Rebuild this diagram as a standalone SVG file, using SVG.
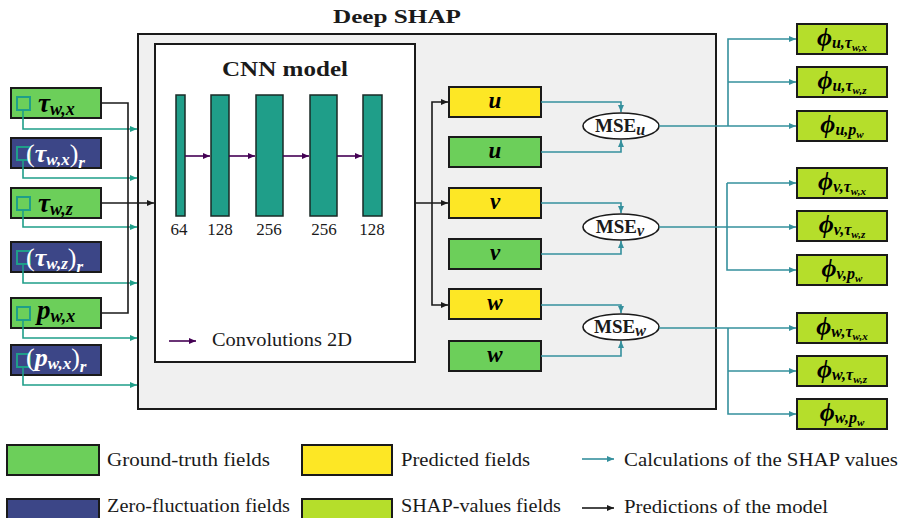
<svg xmlns="http://www.w3.org/2000/svg" width="900" height="518" viewBox="0 0 900 518">
<defs>
<style>
.gt{fill:#6ccf5a;stroke:#1a1a1a;stroke-width:2}
.zf{fill:#3c4687;stroke:#1a1a1a;stroke-width:2}
.pr{fill:#fde725;stroke:#1a1a1a;stroke-width:2}
.sh{fill:#b5de2b;stroke:#1a1a1a;stroke-width:2}
.sq{fill:none;stroke:#1f9e89;stroke-width:2}
.layer{fill:#1f9e89;stroke:#1a2a26;stroke-width:1.5}
.lt{fill:none;stroke:#1f9e89;stroke-width:1.6}
.rt{fill:none;stroke:#35909d;stroke-width:1.6}
.bk{fill:none;stroke:#1a1a1a;stroke-width:1.6}
.pu{fill:none;stroke:#440154;stroke-width:1.6}
.m{font-family:"Liberation Serif","DejaVu Serif",serif;font-weight:bold;font-style:italic}
.t{font-family:"Liberation Serif","DejaVu Serif",serif;fill:#1a1a1a}
.lg{font-family:"Liberation Serif","DejaVu Serif",serif;font-size:18px;fill:#1a1a1a}
</style>
<marker id="aL" markerWidth="8" markerHeight="8" refX="7" refY="4" orient="auto" markerUnits="userSpaceOnUse"><path d="M0,1 L7,4 L0,7 z" fill="#1f9e89"/></marker>
<marker id="aR" markerWidth="8" markerHeight="8" refX="7" refY="4" orient="auto" markerUnits="userSpaceOnUse"><path d="M0,1 L7,4 L0,7 z" fill="#35909d"/></marker>
<marker id="aB" markerWidth="8" markerHeight="8" refX="7" refY="4" orient="auto" markerUnits="userSpaceOnUse"><path d="M0,1 L7,4 L0,7 z" fill="#1a1a1a"/></marker>
<marker id="aP" markerWidth="8" markerHeight="8" refX="7" refY="4" orient="auto" markerUnits="userSpaceOnUse"><path d="M0,1 L7,4 L0,7 z" fill="#440154"/></marker>
</defs>
<rect width="900" height="518" fill="#ffffff"/>

<g id="deep-shap">
<rect x="138" y="34" width="578" height="375" fill="#f0f0f0" stroke="#1a1a1a" stroke-width="2"/>
<text x="397" y="23" text-anchor="middle" class="t" font-size="19" font-weight="bold" textLength="128" lengthAdjust="spacingAndGlyphs">Deep SHAP</text>
</g>

<g id="cnn-model">
<rect x="155" y="44" width="260" height="318" fill="#ffffff" stroke="#1a1a1a" stroke-width="2"/>
<text x="285" y="76" text-anchor="middle" class="t" font-size="20" font-weight="bold" textLength="126" lengthAdjust="spacingAndGlyphs">CNN model</text>
<rect class="layer" x="176" y="95" width="9" height="121"/>
<rect class="layer" x="211" y="95" width="18" height="121"/>
<rect class="layer" x="256" y="95" width="27" height="121"/>
<rect class="layer" x="310" y="95" width="27" height="121"/>
<rect class="layer" x="363" y="95" width="19" height="121"/>
<path class="pu" d="M185,156 H210" marker-end="url(#aP)"/>
<path class="pu" d="M229,156 H255" marker-end="url(#aP)"/>
<path class="pu" d="M283,156 H309" marker-end="url(#aP)"/>
<path class="pu" d="M337,156 H362" marker-end="url(#aP)"/>
<text class="t" font-size="17" text-anchor="middle" x="179" y="235">64</text>
<text class="t" font-size="17" text-anchor="middle" x="220" y="235">128</text>
<text class="t" font-size="17" text-anchor="middle" x="269" y="235">256</text>
<text class="t" font-size="17" text-anchor="middle" x="324" y="235">256</text>
<text class="t" font-size="17" text-anchor="middle" x="372" y="235">128</text>
<path class="pu" d="M169,341 H196" marker-end="url(#aP)"/>
<text class="t" font-size="18" x="212" y="346" textLength="140" lengthAdjust="spacingAndGlyphs">Convolutions 2D</text>
</g>

<g id="in-tauwx">
<rect class="gt" x="11" y="88" width="90" height="30"/>
<rect class="sq" x="17" y="97" width="13" height="13"/>
<text class="m" x="38" y="112" fill="#000"><tspan font-size="27">τ</tspan><tspan font-size="18" dy="3">w,x</tspan></text>
</g>
<g id="in-tauwx-r">
<rect class="zf" x="11" y="138" width="90" height="30"/>
<rect class="sq" x="17" y="147" width="13" height="13"/>
<text class="m" x="26" y="162" fill="#ffffff"><tspan font-size="26" font-style="normal" font-weight="normal">(</tspan><tspan font-size="26">τ</tspan><tspan font-size="17" dy="3">w,x</tspan><tspan font-size="26" dy="-3" font-style="normal" font-weight="normal">)</tspan><tspan font-size="17" dy="6">r</tspan></text>
</g>
<g id="in-tauwz">
<rect class="gt" x="11" y="188" width="90" height="30"/>
<rect class="sq" x="17" y="197" width="13" height="13"/>
<text class="m" x="38" y="212" fill="#000"><tspan font-size="27">τ</tspan><tspan font-size="18" dy="3">w,z</tspan></text>
</g>
<g id="in-tauwz-r">
<rect class="zf" x="11" y="242" width="90" height="30"/>
<rect class="sq" x="17" y="251" width="13" height="13"/>
<text class="m" x="26" y="266" fill="#ffffff"><tspan font-size="26" font-style="normal" font-weight="normal">(</tspan><tspan font-size="26">τ</tspan><tspan font-size="17" dy="3">w,z</tspan><tspan font-size="26" dy="-3" font-style="normal" font-weight="normal">)</tspan><tspan font-size="17" dy="6">r</tspan></text>
</g>
<g id="in-pwx">
<rect class="gt" x="11" y="298" width="90" height="30"/>
<rect class="sq" x="17" y="307" width="13" height="13"/>
<text class="m" x="37" y="319" fill="#000"><tspan font-size="27">p</tspan><tspan font-size="18" dy="3">w,x</tspan></text>
</g>
<g id="in-pwx-r">
<rect class="zf" x="11" y="345" width="90" height="30"/>
<rect class="sq" x="17" y="354" width="13" height="13"/>
<text class="m" x="26" y="366" fill="#ffffff"><tspan font-size="26" font-style="normal" font-weight="normal">(</tspan><tspan font-size="26">p</tspan><tspan font-size="17" dy="3">w,x</tspan><tspan font-size="26" dy="-3" font-style="normal" font-weight="normal">)</tspan><tspan font-size="17" dy="6">r</tspan></text>
</g>

<g id="pred-u"><rect class="pr" x="449" y="87" width="92" height="30"/><text class="m" x="495" y="108" text-anchor="middle" font-size="23">u</text></g>
<g id="gt-u"><rect class="gt" x="449" y="137" width="92" height="30"/><text class="m" x="495" y="158" text-anchor="middle" font-size="23">u</text></g>
<g id="pred-v"><rect class="pr" x="449" y="188" width="92" height="30"/><text class="m" x="495" y="209" text-anchor="middle" font-size="23">v</text></g>
<g id="gt-v"><rect class="gt" x="449" y="239" width="92" height="30"/><text class="m" x="495" y="260" text-anchor="middle" font-size="23">v</text></g>
<g id="pred-w"><rect class="pr" x="449" y="289" width="92" height="30"/><text class="m" x="495" y="310" text-anchor="middle" font-size="23">w</text></g>
<g id="gt-w"><rect class="gt" x="449" y="341" width="92" height="30"/><text class="m" x="495" y="362" text-anchor="middle" font-size="23">w</text></g>

<g id="mse-u"><ellipse cx="621" cy="126" rx="38" ry="13" fill="#fff" stroke="#1a1a1a" stroke-width="1.6"/><text x="620" y="132" text-anchor="middle" class="t" font-size="19" font-weight="bold">MSE<tspan class="m" font-size="16" dy="3">u</tspan></text></g>
<g id="mse-v"><ellipse cx="621" cy="227" rx="38" ry="13" fill="#fff" stroke="#1a1a1a" stroke-width="1.6"/><text x="620" y="233" text-anchor="middle" class="t" font-size="19" font-weight="bold">MSE<tspan class="m" font-size="16" dy="3">v</tspan></text></g>
<g id="mse-w"><ellipse cx="621" cy="327" rx="38" ry="13" fill="#fff" stroke="#1a1a1a" stroke-width="1.6"/><text x="620" y="333" text-anchor="middle" class="t" font-size="19" font-weight="bold">MSE<tspan class="m" font-size="16" dy="3">w</tspan></text></g>

<g id="phi-u-tauwx"><rect class="sh" x="797" y="24" width="90" height="30"/><text class="m" x="842" y="46" text-anchor="middle"><tspan font-size="26">ϕ</tspan><tspan font-size="16" dy="2">u,τ</tspan><tspan font-size="11" dy="3">w,x</tspan></text></g>
<g id="phi-u-tauwz"><rect class="sh" x="797" y="67" width="90" height="30"/><text class="m" x="842" y="89" text-anchor="middle"><tspan font-size="26">ϕ</tspan><tspan font-size="16" dy="2">u,τ</tspan><tspan font-size="11" dy="3">w,z</tspan></text></g>
<g id="phi-u-pw"><rect class="sh" x="797" y="111" width="90" height="30"/><text class="m" x="842" y="133" text-anchor="middle"><tspan font-size="26">ϕ</tspan><tspan font-size="16" dy="2">u,p</tspan><tspan font-size="11" dy="3">w</tspan></text></g>
<g id="phi-v-tauwx"><rect class="sh" x="797" y="168" width="90" height="30"/><text class="m" x="842" y="190" text-anchor="middle"><tspan font-size="26">ϕ</tspan><tspan font-size="16" dy="2">v,τ</tspan><tspan font-size="11" dy="3">w,x</tspan></text></g>
<g id="phi-v-tauwz"><rect class="sh" x="797" y="211" width="90" height="30"/><text class="m" x="842" y="233" text-anchor="middle"><tspan font-size="26">ϕ</tspan><tspan font-size="16" dy="2">v,τ</tspan><tspan font-size="11" dy="3">w,z</tspan></text></g>
<g id="phi-v-pw"><rect class="sh" x="797" y="255" width="90" height="30"/><text class="m" x="842" y="277" text-anchor="middle"><tspan font-size="26">ϕ</tspan><tspan font-size="16" dy="2">v,p</tspan><tspan font-size="11" dy="3">w</tspan></text></g>
<g id="phi-w-tauwx"><rect class="sh" x="797" y="313" width="90" height="30"/><text class="m" x="842" y="335" text-anchor="middle"><tspan font-size="26">ϕ</tspan><tspan font-size="16" dy="2">w,τ</tspan><tspan font-size="11" dy="3">w,x</tspan></text></g>
<g id="phi-w-tauwz"><rect class="sh" x="797" y="356" width="90" height="30"/><text class="m" x="842" y="378" text-anchor="middle"><tspan font-size="26">ϕ</tspan><tspan font-size="16" dy="2">w,τ</tspan><tspan font-size="11" dy="3">w,z</tspan></text></g>
<g id="phi-w-pw"><rect class="sh" x="797" y="399" width="90" height="30"/><text class="m" x="842" y="421" text-anchor="middle"><tspan font-size="26">ϕ</tspan><tspan font-size="16" dy="2">w,p</tspan><tspan font-size="11" dy="3">w</tspan></text></g>

<g id="connectors">
<path class="lt" d="M23,110 V129 H137" marker-end="url(#aL)"/>
<path class="lt" d="M23,160 V178 H137" marker-end="url(#aL)"/>
<path class="lt" d="M23,210 V227 H137" marker-end="url(#aL)"/>
<path class="lt" d="M23,264 V283 H137" marker-end="url(#aL)"/>
<path class="lt" d="M23,320 V338 H137" marker-end="url(#aL)"/>
<path class="lt" d="M23,367 V385 H137" marker-end="url(#aL)"/>
<path class="bk" d="M101,103 H128 V313 H101"/>
<path class="bk" d="M101,203 H154" marker-end="url(#aB)"/>
<path class="bk" d="M415,203 H448" marker-end="url(#aB)"/>
<path class="bk" d="M432,203 V102 H448" marker-end="url(#aB)"/>
<path class="bk" d="M432,203 V305 H448" marker-end="url(#aB)"/>
<path class="rt" d="M541,102 H621 V112" marker-end="url(#aR)"/>
<path class="rt" d="M541,152 H621 V140" marker-end="url(#aR)"/>
<path class="rt" d="M541,203 H621 V213" marker-end="url(#aR)"/>
<path class="rt" d="M541,254 H621 V241" marker-end="url(#aR)"/>
<path class="rt" d="M541,305 H621 V313" marker-end="url(#aR)"/>
<path class="rt" d="M541,356 H621 V341" marker-end="url(#aR)"/>
<path class="rt" d="M659,126 H796" marker-end="url(#aR)"/>
<path class="rt" d="M728,126 V39 H796" marker-end="url(#aR)"/>
<path class="rt" d="M728,82 H796" marker-end="url(#aR)"/>
<path class="rt" d="M659,227 H796" marker-end="url(#aR)"/>
<path class="rt" d="M727,183 H796" marker-end="url(#aR)"/>
<path class="rt" d="M727,183 V270 H796" marker-end="url(#aR)"/>
<path class="rt" d="M659,328 H796" marker-end="url(#aR)"/>
<path class="rt" d="M728,328 V414 H796" marker-end="url(#aR)"/>
<path class="rt" d="M728,371 H796" marker-end="url(#aR)"/>
</g>

<g id="legend">
<rect class="gt" x="7" y="445" width="92" height="30"/>
<text class="lg" x="107" y="466" textLength="163" lengthAdjust="spacingAndGlyphs">Ground-truth fields</text>
<rect class="zf" x="7" y="499" width="92" height="30"/>
<text class="lg" x="107" y="512" textLength="183" lengthAdjust="spacingAndGlyphs">Zero-fluctuation fields</text>
<rect class="pr" x="302" y="445" width="90" height="30"/>
<text class="lg" x="401" y="466" textLength="129" lengthAdjust="spacingAndGlyphs">Predicted fields</text>
<rect class="sh" x="302" y="499" width="90" height="30"/>
<text class="lg" x="401" y="512" textLength="160" lengthAdjust="spacingAndGlyphs">SHAP-values fields</text>
<path class="rt" d="M582,459 H614" marker-end="url(#aR)"/>
<text class="lg" x="624" y="466" textLength="274" lengthAdjust="spacingAndGlyphs">Calculations of the SHAP values</text>
<path class="bk" d="M582,508 H614" marker-end="url(#aB)"/>
<text class="lg" x="624" y="513" textLength="204" lengthAdjust="spacingAndGlyphs">Predictions of the model</text>
</g>
</svg>
